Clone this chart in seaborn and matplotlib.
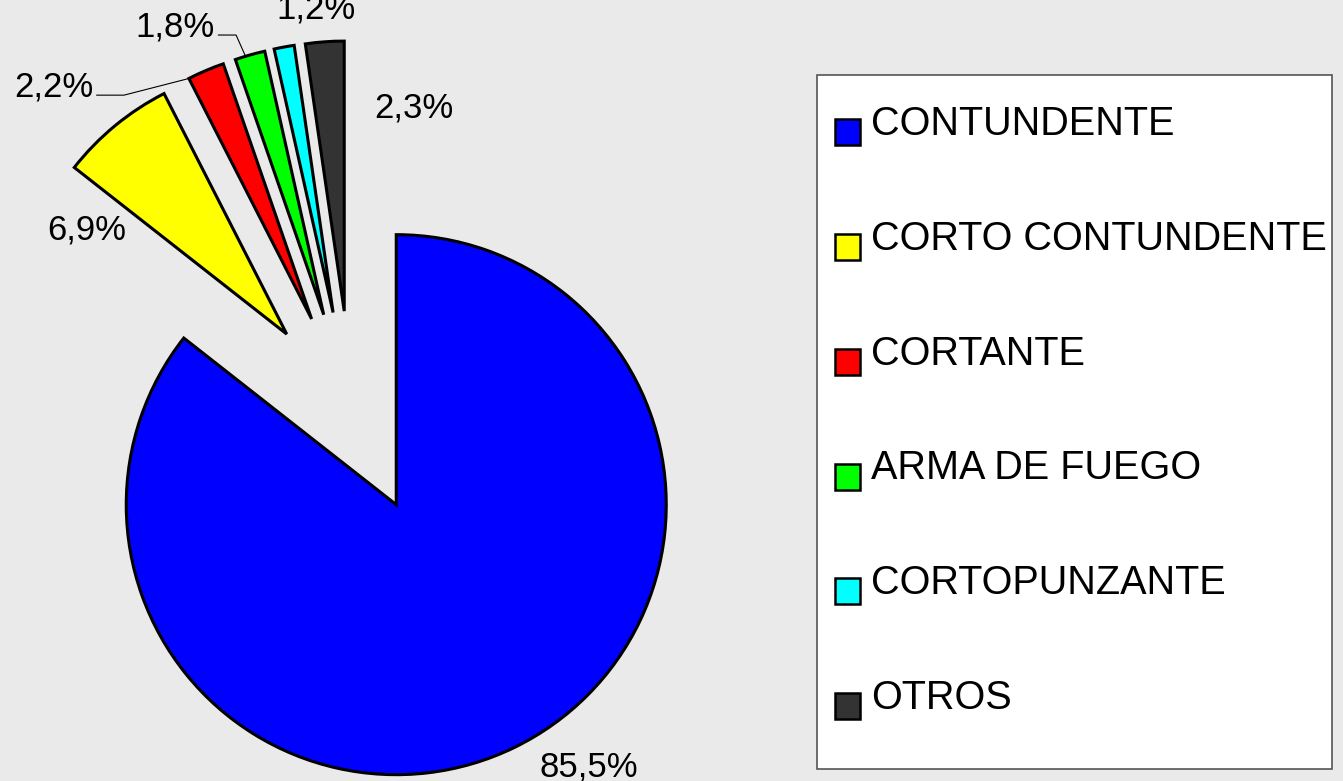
import matplotlib
matplotlib.use("Agg")
import numpy as np
import matplotlib.pyplot as plt
import seaborn as sns
from matplotlib.patches import Patch, Rectangle
from matplotlib.legend_handler import HandlerPatch

# datos
categorias = ["CONTUNDENTE", "CORTO CONTUNDENTE", "CORTANTE",
              "ARMA DE FUEGO", "CORTOPUNZANTE", "OTROS"]
porcentajes = [85.5, 6.9, 2.2, 1.8, 1.2, 2.3]
etiquetas = ["85,5%", "6,9%", "2,2%", "1,8%", "1,2%", "2,3%"]
colores = ["#0000ff", "#ffff00", "#ff0000", "#00ff00", "#00ffff", "#333333"]

# posicion de las etiquetas (distancia al centro, angulo en grados)
lab_dist = [1.608, 1.172, 1.609, 1.539, 1.465, 1.119]
lab_ang = [-56.85, 146.7, 133.3, 115.1, 95.2, 78.2]

fondo = "#eaeaea"
sns.set_theme(style="white", rc={"figure.facecolor": fondo, "axes.facecolor": fondo,
                                 "text.color": "black"})
plt.rcParams["font.family"] = ["Liberation Sans", "DejaVu Sans"]

W, H = 1343, 781
R = 270.0              # radio del pastel en px
cx, cy = 351.6, 412.9  # centro del pastel en px

fig = plt.figure(figsize=(W / 100, H / 100), dpi=100)
ax = fig.add_axes([0, 0, 1, 1])

wedges, _ = ax.pie(
    porcentajes, colors=colores, startangle=90, counterclock=False,
    explode=[0.378] * len(porcentajes), radius=1.0,
    wedgeprops=dict(edgecolor="black", linewidth=2.2),
)
ax.set_aspect("auto")
ax.set_xlim(-cx / R, (W - cx) / R)
ax.set_ylim(-(H - cy) / R, cy / R)
ax.axis("off")

# etiquetas de porcentaje
for i, txt in enumerate(etiquetas):
    a = np.deg2rad(lab_ang[i])
    pos = (lab_dist[i] * np.cos(a), lab_dist[i] * np.sin(a))
    if i in (2, 3):
        w = wedges[i]
        frac = 1.0 if i == 2 else 0.65
        t = np.deg2rad(w.theta1 + frac * (w.theta2 - w.theta1))
        punto = (w.center[0] + w.r * np.cos(t), w.center[1] + w.r * np.sin(t))
        angB = 14.4 if i == 2 else 114
        ax.annotate(txt, xy=punto, xytext=pos, ha="center", va="baseline",
                    fontsize=25, color="black",
                    arrowprops=dict(arrowstyle="-", color="black", lw=0.8,
                                    shrinkA=0, shrinkB=0, relpos=(1.0, 0.26),
                                    connectionstyle=f"angle,angleA=0,angleB={angB},rad=0"))
    else:
        ax.text(pos[0], pos[1], txt, ha="center", va="baseline",
                fontsize=25, color="black")

# leyenda
marco = Rectangle((817 / W, 1 - 769 / H), (1332 - 817) / W, (769 - 75) / H,
                  transform=fig.transFigure, facecolor="white",
                  edgecolor="#555555", linewidth=1.2, zorder=1)
fig.add_artist(marco)


def cuadro_bajo(legend, orig_handle, xdescent, ydescent, width, height, fontsize):
    # el cuadro queda un poco por debajo del centro del texto
    return Rectangle((-xdescent, -ydescent - 8), width, height)


handles = [Patch(facecolor=c, edgecolor="black", linewidth=1.8) for c in colores]
fig.legend(handles, categorias, loc="upper left",
           bbox_to_anchor=(835 / W, 1 - 105 / H),
           frameon=False, fontsize=28.5, labelcolor="black",
           handlelength=0.63, handleheight=0.63, handletextpad=0.28,
           labelspacing=1.94, borderpad=0, borderaxespad=0,
           handler_map={Patch: HandlerPatch(patch_func=cuadro_bajo)})

fig.savefig("out.png", dpi=100, facecolor=fondo)
